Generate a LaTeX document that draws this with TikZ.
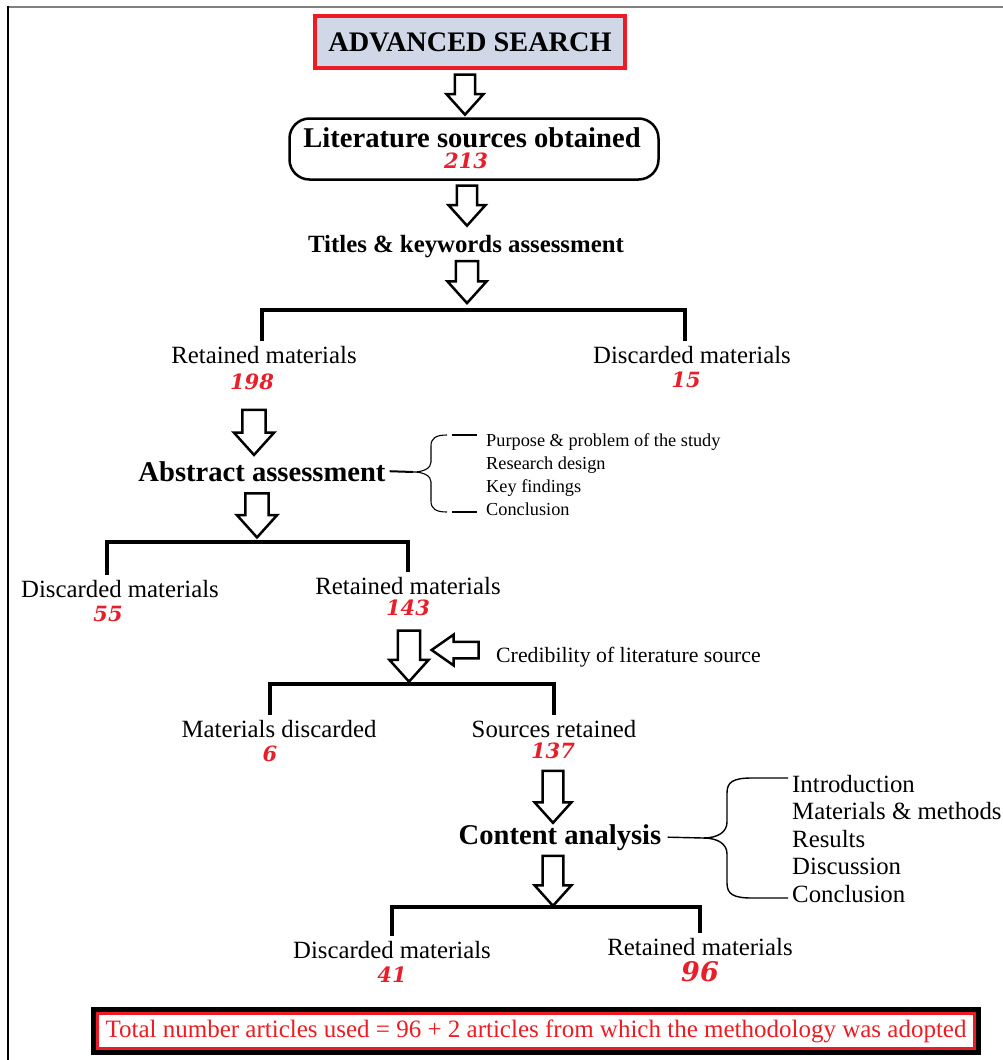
\documentclass[tikz,border=0pt]{standalone}
\usepackage{fontspec}
\setmainfont{Liberation Serif}
\newfontfamily\numfont{DejaVu Serif}
\usetikzlibrary{positioning,calc,shapes.arrows}
\definecolor{SearchRed}{RGB}{237,28,36}
\definecolor{SearchFill}{RGB}{208,216,232}
\definecolor{NumRed}{RGB}{232,30,42}
\definecolor{FrameGray}{RGB}{128,128,128}
\tikzset{
  searchbox/.style={draw=SearchRed,line width=4pt,fill=SearchFill,inner sep=0pt,
    minimum width=310pt,minimum height=52pt,font=\fontsize{28.3}{32}\selectfont\bfseries},
  litbox/.style={draw=black,line width=2.5pt,rounded corners=20pt,
    minimum width=369pt,minimum height=61pt},
  headtext/.style={inner sep=0pt,font=\fontsize{28.6}{32}\selectfont\bfseries},
  subhead/.style={inner sep=0pt,font=\fontsize{24.8}{28}\selectfont\bfseries},
  lbl/.style={inner xsep=0pt,inner ysep=5pt,font=\fontsize{24.8}{28}\selectfont},
  listitem/.style={inner sep=0pt,font=\fontsize{24.8}{28}\selectfont},
  smallitem/.style={inner sep=0pt,font=\fontsize{18.3}{21}\selectfont},
  midtext/.style={inner sep=0pt,font=\fontsize{21.8}{25}\selectfont},
  numtext/.style={inner sep=0pt,text=NumRed,font=\numfont\fontsize{21}{24}\selectfont\bfseries\itshape},
  blockarrow/.style={single arrow,draw=black,line width=2.5pt,fill=white,inner sep=8pt,
    minimum width=39pt,single arrow tip angle=84,shape border rotate=270},
  bracket/.style={draw=black,line width=3.5pt},
  bracelink/.style={draw=black,line width=1.4pt},
  totalbox/.style={draw=SearchRed,line width=3pt,outer sep=0pt,text=SearchRed,
    minimum width=877pt,minimum height=35pt,font=\fontsize{25}{28}\selectfont},
}
\begin{document}
\begin{tikzpicture}[x=1pt,y=-1pt]
  \useasboundingbox (0,0) rectangle (1003,1060);
  \draw[FrameGray,line width=2pt] (8,7) -- (1003,7);
  \draw[black,line width=1.5pt] (8,6) -- (8,1060);

  \node[searchbox] (search) at (470,42) {ADVANCED SEARCH};
  \node[blockarrow,minimum height=40pt,inner sep=7.5pt,minimum width=37pt] (a1) at (465,89) {};
  \node[litbox] (lit) at (474,149) {};
  \node[headtext,anchor=base] (littitle) at (472,147) {Literature sources obtained};
  \node[numtext,anchor=base] (n213) at (466,168) {213};
  \node[blockarrow,minimum height=40pt,inner sep=7.5pt,minimum width=37pt] (a2) at (467,200) {};
  \node[subhead,anchor=base] (titles) at (466,252) {Titles \& keywords assessment};
  \node[blockarrow,minimum height=42pt] (a3) at (467,276) {};

  % first screening
  \coordinate (bar1) at (467,310);
  \node[lbl,anchor=base] (ret1) at (264,363) {Retained materials};
  \node[numtext,anchor=base] (n198) at (252,389) {198};
  \node[lbl,anchor=base] (dis1) at (692,363) {Discarded materials};
  \node[numtext,anchor=base] (n15) at (686,387) {15};
  \draw[bracket] ([xshift=-2pt]ret1.north) |- (bar1) -| ([xshift=-7pt]dis1.north);

  \node[blockarrow,minimum height=45pt,inner sep=8.5pt,minimum width=40pt] (a4) at (254,426) {};
  \node[headtext,anchor=base] (abs) at (262,481) {Abstract assessment};
  \coordinate (abstip) at (413,472);
  \draw[bracelink,line width=2pt] ([xshift=4pt]abs.east) -- (abstip);
  \draw[bracelink,line width=1.1pt] (447,435) .. controls (436,435) and (431,438) .. (431,446)
    -- (431,462) .. controls (431,468) and (424,472) .. (abstip)
    .. controls (424,472) and (431,476) .. (431,482) -- (431,501)
    .. controls (431,509) and (436,512) .. (447,512);
  \draw[bracelink,line width=1.8pt] (452,435) -- (477,435);
  \draw[bracelink,line width=1.8pt] (452,512) -- (477,512);
  \foreach \t [count=\i] in {Purpose \& problem of the study,Research design,Key findings,Conclusion}
    \node[smallitem,anchor=base west] (ai\i) at (486,{423+23*\i}) {\t};

  \node[blockarrow,minimum height=44pt,inner sep=8.5pt,minimum width=40pt] (a5) at (257,509) {};

  % second screening
  \coordinate (bar2) at (258,542);
  \node[lbl,anchor=base] (dis2) at (120,597) {Discarded materials};
  \node[numtext,anchor=base] (n55) at (108,621) {55};
  \node[lbl,anchor=base] (ret2) at (408,594) {Retained materials};
  \node[numtext,anchor=base] (n143) at (408,615) {143};
  \draw[bracket] ([xshift=-13pt]dis2.north) |- (bar2) -| (ret2.north);

  \node[blockarrow,minimum height=51pt] (a6) at (409,650) {};
  \node[blockarrow,shape border rotate=180,minimum height=47pt,minimum width=30pt,
    inner sep=7pt,single arrow tip angle=70] (credarrow) at (461,650) {};
  \node[midtext,anchor=base west] (cred) at (496,662) {Credibility of literature source};

  % third screening
  \coordinate (bar3) at (409,684);
  \node[lbl,anchor=base] (mdis) at (279,737) {Materials discarded};
  \node[numtext,anchor=base] (n6) at (270,761) {6};
  \node[lbl,anchor=base] (sret) at (554,737) {Sources retained};
  \node[numtext,anchor=base] (n137) at (553,758) {137};
  \draw[bracket] ([xshift=-9pt]mdis.north) |- (bar3) -| (sret.north);

  \node[blockarrow,minimum height=52pt,minimum width=37pt] (a7) at (553,791) {};
  \node[headtext,anchor=base] (ca) at (560,844) {Content analysis};
  \coordinate (catip) at (703,838);
  \draw[bracelink] ([xshift=6pt]ca.east) -- (catip);
  \draw[bracelink] (788,778) -- (752,778) .. controls (733,778) and (727,782) .. (727,793)
    -- (727,822) .. controls (727,832) and (718,838) .. (catip)
    .. controls (718,838) and (727,844) .. (727,854) -- (727,883)
    .. controls (727,894) and (733,898) .. (752,898) -- (788,898);
  \foreach \t [count=\i] in {Introduction,Materials \& methods,Results,Discussion,Conclusion}
    \node[listitem,anchor=base west] (ci\i) at (792,{764.5+27.5*\i}) {\t};

  \node[blockarrow,minimum height=50pt,minimum width=37pt] (a8) at (553,875) {};

  % final screening
  \coordinate (bar4) at (553,907);
  \node[lbl,anchor=base] (dis4) at (392,958) {Discarded materials};
  \node[numtext,anchor=base] (n41) at (392,982) {41};
  \node[lbl,anchor=base] (ret4) at (700,955) {Retained materials};
  \node[numtext,anchor=base,font=\numfont\fontsize{27}{30}\selectfont\bfseries\itshape] (n96) at (700,981) {96};
  \draw[bracket] (dis4.north) |- (bar4) -| (ret4.north);

  \node[totalbox] (total) at (536,1031)
    {Total number articles used = 96 + 2 articles from which the methodology was adopted};
  \draw[black,line width=5pt] ($(total.north west)+(-4,-4)$) rectangle ($(total.south east)+(4,4)$);
\end{tikzpicture}
\end{document}
